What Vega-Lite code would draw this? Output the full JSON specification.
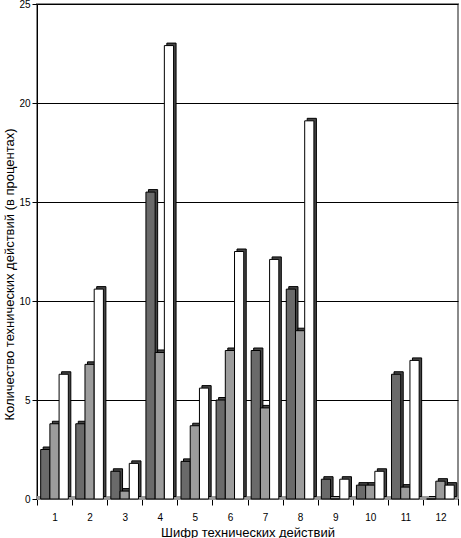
{
  "$schema": "https://vega.github.io/schema/vega-lite/v6.json",
  "width": 421,
  "height": 495,
  "autosize": "none",
  "padding": {"left": 37, "top": 4, "right": 3, "bottom": 39},
  "background": "white",
  "config": {
    "view": {"stroke": "#8a8a8a", "strokeWidth": 2},
    "font": "Liberation Sans",
    "axis": {"labelFont": "Liberation Sans", "titleFont": "Liberation Sans", "labelColor": "black", "titleColor": "black", "domainColor": "black", "tickColor": "black"}
  },
  "data": {
    "values": [
      {"cat": "1", "s": "a", "v": 2.5}, {"cat": "1", "s": "b", "v": 3.8}, {"cat": "1", "s": "c", "v": 6.3},
      {"cat": "2", "s": "a", "v": 3.8}, {"cat": "2", "s": "b", "v": 6.8}, {"cat": "2", "s": "c", "v": 10.6},
      {"cat": "3", "s": "a", "v": 1.4}, {"cat": "3", "s": "b", "v": 0.4}, {"cat": "3", "s": "c", "v": 1.8},
      {"cat": "4", "s": "a", "v": 15.5}, {"cat": "4", "s": "b", "v": 7.4}, {"cat": "4", "s": "c", "v": 22.9},
      {"cat": "5", "s": "a", "v": 1.9}, {"cat": "5", "s": "b", "v": 3.7}, {"cat": "5", "s": "c", "v": 5.6},
      {"cat": "6", "s": "a", "v": 5.0}, {"cat": "6", "s": "b", "v": 7.5}, {"cat": "6", "s": "c", "v": 12.5},
      {"cat": "7", "s": "a", "v": 7.5}, {"cat": "7", "s": "b", "v": 4.6}, {"cat": "7", "s": "c", "v": 12.1},
      {"cat": "8", "s": "a", "v": 10.6}, {"cat": "8", "s": "b", "v": 8.5}, {"cat": "8", "s": "c", "v": 19.1},
      {"cat": "9", "s": "a", "v": 1.0}, {"cat": "9", "s": "b", "v": 0}, {"cat": "9", "s": "c", "v": 1.0},
      {"cat": "10", "s": "a", "v": 0.7}, {"cat": "10", "s": "b", "v": 0.7}, {"cat": "10", "s": "c", "v": 1.4},
      {"cat": "11", "s": "a", "v": 6.3}, {"cat": "11", "s": "b", "v": 0.6}, {"cat": "11", "s": "c", "v": 7.0},
      {"cat": "12", "s": "a", "v": 0}, {"cat": "12", "s": "b", "v": 0.9}, {"cat": "12", "s": "c", "v": 0.7}
    ]
  },
  "encoding": {
    "x": {
      "field": "cat", "type": "nominal", "sort": null,
      "scale": {"paddingInner": 0, "paddingOuter": 0},
      "axis": {"title": "Шифр технических действий", "labelAngle": 0, "tickBand": "extent", "tickSize": 6, "labelPadding": 7, "labelFontSize": 10, "titleFontSize": 13, "titleFontWeight": "normal", "titlePadding": 4, "domainWidth": 1}
    },
    "y": {
      "field": "v", "type": "quantitative",
      "scale": {"domain": [0, 25], "nice": false},
      "axis": {"title": "Количество технических действий (в процентах)", "values": [0, 5, 10, 15, 20, 25], "tickSize": 5, "labelPadding": 2, "labelFontSize": 10, "titleFontSize": 13, "titleFontWeight": "normal", "titlePadding": 2, "titleY": 270, "grid": true, "gridColor": "black", "gridOpacity": 1, "gridWidth": 1}
    }
  },
  "resolve": {"scale": {"xOffset": "independent"}},
  "layer": [
    {
      "mark": {"type": "rule", "color": "#9a9a9a", "strokeWidth": 3, "yOffset": -1},
      "encoding": {"y": {"datum": 0}, "x": null}
    },
    {
      "mark": {"type": "bar", "color": "#444444", "stroke": "black", "strokeWidth": 1, "yOffset": -2.5},
      "encoding": {
        "xOffset": {"field": "s", "type": "nominal", "scale": {"paddingInner": 0, "paddingOuter": 0.4, "range": [2.5, 37.5]}}
      }
    },
    {
      "mark": {"type": "bar", "stroke": "black", "strokeWidth": 1},
      "encoding": {
        "xOffset": {"field": "s", "type": "nominal", "scale": {"paddingInner": 0, "paddingOuter": 0.4, "range": [0, 35]}},
        "fill": {"field": "s", "type": "nominal", "legend": null, "scale": {"domain": ["a", "b", "c"], "range": ["#6a6a6a", "#9c9c9c", "#ffffff"]}}
      }
    }
  ]
}
